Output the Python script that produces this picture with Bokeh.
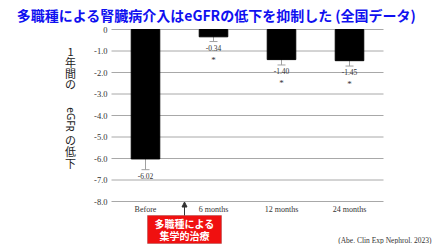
from bokeh.plotting import figure
from bokeh.models import (ColumnDataSource, Range1d, Whisker, TeeHead, Label, Arrow, NormalHead,
                          BoxAnnotation)
from bokeh.embed import file_html
from bokeh.resources import INLINE
from bokeh.core.properties import value

categories = ["Before", "6 months", "12 months", "24 months"]
means = [-6.02, -0.34, -1.40, -1.45]
errors = [0.50, 0.22, 0.25, 0.25]
value_labels = ["-6.02", "-0.34", "-1.40", "-1.45"]
stars = ["", "*", "*", "*"]
y_ticks = [0, -1, -2, -3, -4, -5, -6, -7, -8]
y_tick_labels = ["0", "-1.0", "-2.0", "-3.0", "-4.0", "-5.0", "-6.0", "-7.0", "-8.0"]

# layout constants (pixels of the 434x244 canvas)
X0, PX_X = 111, 68.0      # left edge of plot area, pixels per category
Y0, PX_Y = 29, 21.5       # pixel row of value 0, pixels per unit

def dx(px):
    return (px - X0) / PX_X

def dy(py):
    return -(py - Y0) / PX_Y

n = len(categories)
xpos = [i + 0.5 for i in range(n)]

src = ColumnDataSource(dict(
    x=xpos, cat=categories, mean=means,
    lower=[m - e for m, e in zip(means, errors)],
    upper=[m + e for m, e in zip(means, errors)],
    lab=value_labels, star=stars,
))
grid_src = ColumnDataSource(dict(y=y_ticks, lab=y_tick_labels))
cat_src = ColumnDataSource(dict(x=xpos, lab=categories))

p = figure(width=434, height=244, output_backend="svg", toolbar_location=None,
           x_range=Range1d(dx(0), dx(434)), y_range=Range1d(dy(244), dy(0)),
           min_border=0)
p.axis.visible = False
p.grid.visible = False
p.outline_line_color = None
p.background_fill_color = "white"
p.border_fill_color = "white"

y_min = min(y_ticks)

# horizontal gridlines spanning the category area
p.segment(x0=0, x1=n, y0="y", y1="y", source=grid_src, line_color="#a8a8a8", line_width=1)
# y tick labels
p.text(x=0, y="y", text="lab", source=grid_src, x_offset=-4,
       text_font=value("Liberation Serif"), text_font_size="8.5px", text_color="#333333",
       text_align="right", text_baseline="middle")
# category labels
p.text(x="x", y=y_min, text="lab", source=cat_src, y_offset=8,
       text_font=value("Liberation Serif"), text_font_size="8px", text_color="#333333",
       text_align="center", text_baseline="middle")

p.vbar(x="x", top=0, bottom="mean", width=0.42, source=src,
       fill_color="black", line_color="black")
w = Whisker(base="x", lower="lower", upper="upper", source=src,
            line_color="#a0a0a0", line_width=1,
            upper_head=TeeHead(size=8, line_color="#a0a0a0"),
            lower_head=TeeHead(size=8, line_color="#a0a0a0"))
p.add_layout(w)

p.text(x="x", y="lower", text="lab", source=src, y_offset=3,
       text_font=value("Liberation Serif"), text_font_size="7.5px", text_color="#333333",
       text_align="center", text_baseline="top")
p.text(x="x", y="lower", text="star", source=src, y_offset=13,
       text_font=value("Liberation Serif"), text_font_size="9px", text_color="#333333",
       text_align="center", text_baseline="top")

# title
p.add_layout(Label(x=dx(216), y=dy(14), text="多職種による腎臓病介入はeGFRの低下を抑制した (全国データ)",
                   text_font="Noto Sans CJK JP", text_font_style="bold", text_font_size="14px",
                   text_color="#1010f0", text_align="center", text_baseline="middle"))

# vertical y-axis title (upright CJK characters stacked, Latin part rotated)
ychars = ["1", "年", "間", "の", "の", "低", "下"]
ychar_rows = [51.5, 61.5, 72, 83.5, 139.5, 150, 162]
p.text(x=dx(70), y=[dy(r) for r in ychar_rows], text=ychars,
       text_font=value("Noto Sans CJK JP"), text_font_size="11px", text_color="#222222",
       text_align="center", text_baseline="middle")
p.text(x=dx(70), y=dy(119), text=["eGFR"], angle=-1.5708,
       text_font=value("Noto Sans"), text_font_size="10px", text_color="#222222",
       text_align="center", text_baseline="middle")

# arrow and red box
p.add_layout(Arrow(x_start=dx(184), y_start=dy(215), x_end=dx(184), y_end=dy(201.5),
                   line_color="#333333", line_width=1,
                   end=NormalHead(size=5, fill_color="#333333", line_color="#333333")))
p.add_layout(BoxAnnotation(left=dx(147), right=dx(221), top=dy(215), bottom=dy(243),
                           fill_color="#f01010", fill_alpha=1.0,
                           line_color="#7a1a1a", line_width=1, level="underlay"))
box_lines = ["多職種による", "集学的治療"]
box_rows = [223, 234.5]
p.text(x=dx(184), y=[dy(r) for r in box_rows], text=box_lines,
       text_font=value("Noto Sans CJK JP"), text_font_style="bold", text_font_size="10px",
       text_color="white", text_align="center", text_baseline="middle")

# citation
p.add_layout(Label(x=dx(431), y=dy(240), text="(Abe. Clin Exp Nephrol. 2023)",
                   text_font="Liberation Serif", text_font_size="7.5px", text_color="#333333",
                   text_align="right", text_baseline="middle"))

open("out.html", "w").write(file_html(p, INLINE))
